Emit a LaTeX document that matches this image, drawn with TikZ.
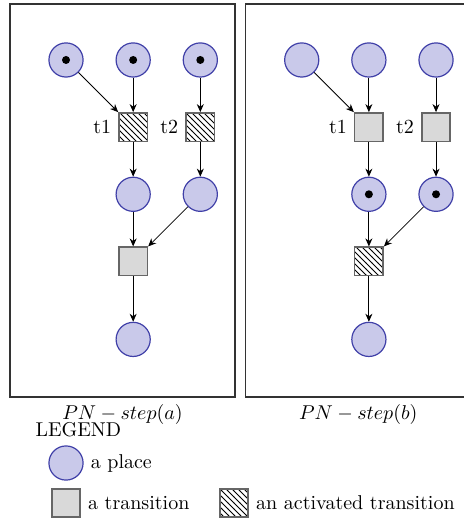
\documentclass[tikz,border=0pt]{standalone}
\usepackage{amsmath}
\usepackage{xcolor}
\usepackage{tikz}
\usetikzlibrary{positioning,arrows.meta,patterns}

\definecolor{placefill}{RGB}{201,201,234}
\definecolor{placeline}{RGB}{64,64,168}

\begin{document}
\begin{tikzpicture}[
  node distance=1.18cm,
  place/.style={circle, draw=placeline, fill=placefill, semithick,
                minimum size=6mm, inner sep=0pt},
  token/.style={path picture={\fill[black] (path picture bounding box.center)
                circle (2pt);}},
  trans/.style={rectangle, draw=black!60, fill=black!15, thick,
                minimum size=5mm, inner sep=0pt},
  active/.style={trans, fill=white, pattern=north west lines},
  frame/.style={draw=black!80, semithick, inner sep=0pt,
                minimum width=3.954cm, minimum height=6.906cm},
  arc/.style={-{Stealth[length=4pt, width=3.5pt]}, thin},
]
\useasboundingbox (-1.160,1.054) rectangle (6.977,-8.101);
% ---- step (a): t1 and t2 enabled --------------------------------------
\begin{scope}[on grid]
\node[place, token] (a1) at (0,0) {};
\node[place, token, right=of a1] (a2) {};
\node[place, token, right=of a2] (a3) {};
\node[active, below=of a2, label=left:t1] (at1) {};
\node[active, below=of a3, label=left:t2] (at2) {};
\node[place, below=of at1] (a4) {};
\node[place, below=of at2] (a5) {};
\node[trans, below=of a4] (at3) {};
\node[place, below=1.37cm of at3] (a6) {};
\end{scope}
\node[frame] (framea) at (0.993,-2.469) {};
\node[below=0pt of framea] (capa) {$PN-step(a)$};
\draw[arc] (a1) -- (at1);
\draw[arc] (a2) -- (at1);
\draw[arc] (a3) -- (at2);
\draw[arc] (at1) -- (a4);
\draw[arc] (at2) -- (a5);
\draw[arc] (a4) -- (at3);
\draw[arc] (a5) -- (at3);
\draw[arc] (at3) -- (a6);
% ---- step (b): after firing, lower transition enabled -----------------
\begin{scope}[on grid]
\node[place] (b1) at (4.142,0) {};
\node[place, right=of b1] (b2) {};
\node[place, right=of b2] (b3) {};
\node[trans, below=of b2, label=left:t1] (bt1) {};
\node[trans, below=of b3, label=left:t2] (bt2) {};
\node[place, token, below=of bt1] (b4) {};
\node[place, token, below=of bt2] (b5) {};
\node[active, below=of b4] (bt3) {};
\node[place, below=1.37cm of bt3] (b6) {};
\end{scope}
\node[frame] (frameb) at (5.135,-2.469) {};
\node[below=0pt of frameb] (capb) {$PN-step(b)$};
\draw[arc] (b1) -- (bt1);
\draw[arc] (b2) -- (bt1);
\draw[arc] (b3) -- (bt2);
\draw[arc] (bt1) -- (b4);
\draw[arc] (bt2) -- (b5);
\draw[arc] (b4) -- (bt3);
\draw[arc] (b5) -- (bt3);
\draw[arc] (bt3) -- (b6);
% ---- legend ------------------------------------------------------------
\node[anchor=west] (legend) at (-0.66,-6.50) {LEGEND};
\begin{scope}[on grid]
\node[place, label=right:a place] (lplace) at (0,-7.082) {};
\node[trans, below=0.703cm of lplace,
      label=right:a transition] (ltrans) {};
\node[active, right=2.952cm of ltrans,
      label=right:an activated transition] (lact) {};
\end{scope}
\end{tikzpicture}
\end{document}
